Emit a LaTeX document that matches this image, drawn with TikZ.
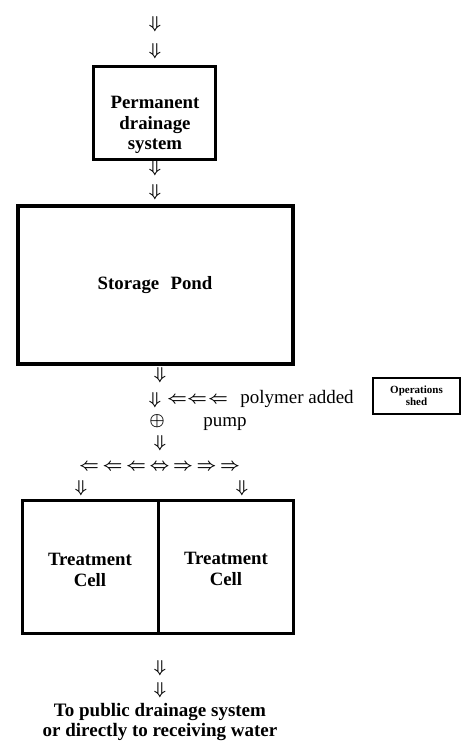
\documentclass[tikz,border=0pt]{standalone}
\usepackage{fontspec}
\setmainfont{Liberation Serif}
\usepackage{tikz}
\usetikzlibrary{positioning}
\newcommand{\bigfont}{\fontsize{18.8}{20.5}\selectfont}
\tikzset{
  unitbox/.style={
    rectangle, draw=black, line width=#1, fill=white,
    inner sep=0pt
  },
  unitbox/.default=3pt,
  boxlabel/.style={
    font=\bigfont\bfseries, align=center, inner sep=0pt
  },
  flowglyph/.style={
    font=\fontsize{16}{16}\selectfont\boldmath, inner sep=0pt
  },
  notelabel/.style={
    font=\fontsize{19}{20}\selectfont, inner sep=0pt
  },
}

\begin{document}
\begin{tikzpicture}[x=1pt,y=-1pt]
  \useasboundingbox (0,0) rectangle (464,743);

  % Inflow
  \node[flowglyph] (in1) at (155,24) {$\Downarrow$};
  \node[flowglyph] (in2) at (155,51) {$\Downarrow$};

  % Permanent drainage system
  \node[unitbox, minimum width=122, minimum height=93] (perm) at (154,113.5) {};
  \node[boxlabel] (permtxt) at (155,125) {Permanent\\drainage\\system};
  \node[flowglyph] (out1) at (155,168) {$\Downarrow$};
  \node[flowglyph] (out2) at (155,192) {$\Downarrow$};

  % Storage pond
  \node[unitbox=3.5pt, minimum width=275, minimum height=158] (pond) at (155.5,285) {};
  \node[boxlabel] (pondtxt) at (155,285) {Storage\hspace{0.6em}Pond};
  \node[flowglyph] (pd1) at (160,375) {$\Downarrow$};

  % Polymer dosing
  \node[flowglyph] (pd2) at (155,400) {$\Downarrow$};
  \foreach \x [count=\i] in {177,197,218}
    \node[flowglyph] (dose\i) at (\x,400) {$\Leftarrow$};
  \node[notelabel] (polymer) at (297,399) {polymer added};
  \node[unitbox=2pt, minimum width=87, minimum height=36] (shed) at (416.5,396) {};
  \node[font=\fontsize{11}{12}\selectfont\bfseries, align=center, inner sep=0pt]
    (shedtxt) at (416.5,396) {Operations\\shed};

  % Pump
  \node[flowglyph] (pump) at (157,421) {$\oplus$};
  \node[notelabel] (pumptxt) at (225,424) {pump};
  \node[flowglyph] (pd3) at (160,443) {$\Downarrow$};

  % Splitter
  \foreach \g [count=\i from 0] in {\Leftarrow,\Leftarrow,\Leftarrow,\Leftrightarrow,\Rightarrow,\Rightarrow,\Rightarrow}
    \node[flowglyph] (split\i) at (89+23.5*\i,467) {$\g$};
  \node[flowglyph] (feedL) at (81,488) {$\Downarrow$};
  \node[flowglyph] (feedR) at (242,488) {$\Downarrow$};

  % Treatment cells
  \node[unitbox, minimum width=136, minimum height=133] (cellL) at (90,566.5) {};
  \node[unitbox, minimum width=135, minimum height=133] (cellR) at (225.5,566.5) {};
  \node[boxlabel] (cellLtxt) at (90,570) {Treatment\\Cell};
  \node[boxlabel] (cellRtxt) at (226,569) {Treatment\\Cell};

  % Discharge
  \node[flowglyph] (dis1) at (160,668) {$\Downarrow$};
  \node[flowglyph] (dis2) at (160,690) {$\Downarrow$};
  \node[font=\fontsize{19}{20}\selectfont\bfseries, align=center, inner sep=0pt]
    (dest) at (160,722) {To public drainage system\\or directly to receiving water};
\end{tikzpicture}
\end{document}
